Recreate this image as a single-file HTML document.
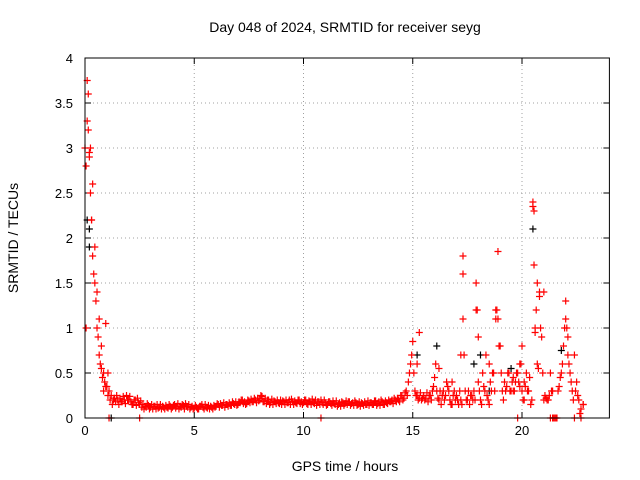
<!DOCTYPE html>
<html><head><meta charset="utf-8"><style>
body{margin:0;background:#fff}
svg{display:block;font-family:"Liberation Sans",sans-serif}
</style></head><body>
<svg id="chart" width="640" height="480">
<text x="345" y="32" font-size="14" text-anchor="middle">Day 048 of 2024, SRMTID for receiver seyg</text>
<text x="0" y="0" transform="translate(18,238) rotate(-90)" font-size="14" text-anchor="middle">SRMTID / TECUs</text>
<text x="345" y="471" font-size="14" text-anchor="middle">GPS time / hours</text>
<g id="grid"></g>
<g id="ticks"></g>
<g id="marks"></g>
<rect x="85" y="58" width="524.4" height="360" fill="none" stroke="#000" stroke-width="1"/>
</svg>
<script>
const xTicks=[0,5,10,15,20];
const yTicks=[0,0.5,1,1.5,2,2.5,3,3.5,4];
const yTickLabels=["0","0.5","1","1.5","2","2.5","3","3.5","4"];
const redStep=0.1;
const redMain=[3.0,3.75,2.9,2.2,1.6,1.3,0.9,0.6,0.45,0.4,
0.35,0.3,0.25,0.2,0.18,0.2,0.22,0.18,0.2,0.25,
0.2,0.18,0.15,0.2,0.22,0.15,0.12,0.1,0.12,0.14,
0.12,0.1,0.13,0.15,0.12,0.1,0.12,0.14,0.11,0.13,
0.12,0.15,0.13,0.1,0.12,0.14,0.16,0.12,0.1,0.13,
0.11,0.12,0.1,0.13,0.12,0.15,0.11,0.1,0.12,0.14,
0.13,0.15,0.16,0.14,0.12,0.15,0.17,0.14,0.16,0.18,
0.15,0.17,0.2,0.18,0.16,0.19,0.21,0.18,0.2,0.22,
0.2,0.24,0.18,0.16,0.2,0.17,0.15,0.18,0.2,0.16,
0.15,0.18,0.2,0.17,0.15,0.18,0.19,0.16,0.2,0.18,
0.17,0.2,0.15,0.18,0.21,0.16,0.14,0.18,0.2,0.15,
0.17,0.15,0.18,0.14,0.16,0.19,0.15,0.13,0.17,0.16,
0.15,0.18,0.16,0.14,0.17,0.15,0.13,0.16,0.18,0.15,
0.14,0.17,0.15,0.19,0.16,0.14,0.18,0.15,0.17,0.2,
0.18,0.16,0.2,0.22,0.18,0.25,0.22,0.3,0.4,0.6,
0.85,0.3,0.25,0.22,0.2,0.25,0.22,0.18,0.25,0.3,
0.45,0.3,0.2,0.15,0.3,0.25,0.35,0.2,0.15,0.3,
0.25,0.15,0.2,1.8,0.3,0.2,0.15,0.25,0.3,1.5,
0.4,0.2,0.5,0.3,0.25,0.6,0.3,0.5,1.1,1.85,
0.8,0.3,0.4,0.35,0.5,0.3,0.45,0.4,0.5,0.35,
0.3,0.2,0.5,0.3,0.15,2.4,1.0,0.6,1.4,0.9,
0.2,0.22,0.2,0.5,0.3,0.0,0.0,0.35,0.5,0.8,
1.3,0.9,0.5,0.3,0.0,0.4,0.2,0.1,0.15];
const redMidStart=0.05;
const redMid=[2.8,3.2,3.0,2.6,1.9,1.4,1.1,0.8,0.5,0.35,
0.25,0.2,0.15,0.22,0.25,0.15,0.18,0.24,0.16,0.2,
0.24,0.15,0.2,0.14,0.17,0.19,0.15,0.13,0.16,0.1,
0.15,0.13,0.1,0.11,0.15,0.13,0.1,0.12,0.15,0.1,
0.14,0.11,0.16,0.13,0.15,0.1,0.13,0.15,0.12,0.1,
0.14,0.1,0.13,0.15,0.1,0.12,0.14,0.13,0.1,0.12,
0.16,0.12,0.14,0.17,0.15,0.13,0.14,0.18,0.15,0.14,
0.18,0.2,0.16,0.15,0.2,0.17,0.18,0.22,0.17,0.19,
0.25,0.18,0.22,0.2,0.15,0.21,0.19,0.16,0.17,0.2,
0.19,0.15,0.17,0.2,0.21,0.15,0.17,0.2,0.16,0.15,
0.2,0.16,0.19,0.15,0.17,0.2,0.18,0.15,0.17,0.2,
0.14,0.18,0.16,0.19,0.15,0.13,0.17,0.18,0.14,0.19,
0.18,0.14,0.17,0.19,0.14,0.18,0.17,0.14,0.15,0.19,
0.17,0.15,0.19,0.14,0.18,0.2,0.15,0.19,0.16,0.18,
0.2,0.22,0.18,0.2,0.25,0.2,0.28,0.25,0.5,0.7,
0.5,0.25,0.2,0.28,0.22,0.2,0.28,0.25,0.2,0.35,
0.6,0.22,0.3,0.25,0.2,0.4,0.3,0.15,0.25,0.2,
0.2,0.3,0.15,0.7,0.2,0.3,0.25,0.2,0.2,1.2,
0.3,0.15,0.35,0.7,0.2,0.4,0.5,0.3,1.2,0.8,
0.5,0.2,0.3,0.5,0.3,0.4,0.3,0.5,0.4,0.6,
0.2,0.35,0.3,0.45,0.2,2.3,1.2,0.55,1.0,0.5,
0.25,0.2,0.25,0.3,0.0,0.0,0.3,0.45,0.6,1.0,
1.0,0.6,0.4,0.2,0.3,0.25,0.05];
const redExtraT=[0.05,0.1,0.15,0.2,0.25,0.3,0.35,0.45,0.55,0.65,0.75,0.85,0.95,1.05,1.1,2.5,10.8,15.3,15.2,16.2,17.3,17.3,17.2,17.9,18.0,18.8,18.9,20.5,20.55,20.7,20.8,21.0,20.6,21.3,21.4,22.0,22.1,22.4,22.7,22.8,19.8,19.9,19.6,18.5,16.8,20.0,20.1];
const redExtraV=[1.0,3.3,3.6,2.95,2.5,2.2,1.8,1.5,1.0,0.7,0.55,0.3,1.05,0.5,0.0,0.0,0.0,0.95,0.6,0.55,1.6,1.1,0.7,1.2,0.9,1.2,1.1,2.35,1.7,1.5,1.35,1.4,0.95,0.0,0.0,1.1,0.7,0.7,0.0,0.15,0.0,0.6,0.3,0.15,0.4,0.8,0.4];
const blackT=[0.1,0.2,0.2,1.2,15.2,16.1,18.1,20.5,21.8,19.5,18.5,17.8];
const blackV=[2.2,1.9,2.1,0.0,0.7,0.8,0.7,2.1,0.75,0.55,0.3,0.6];
const NS="http://www.w3.org/2000/svg";
const X0=85,X1=609.4,Y0=418,Y1=58;
const xs=v=>X0+v/24*(X1-X0);
const ys=v=>Y0-v/4*(Y0-Y1);
const grid=document.getElementById('grid'),ticks=document.getElementById('ticks'),marks=document.getElementById('marks');
function mk(tag,attrs,parent){const e=document.createElementNS(NS,tag);for(const k in attrs)e.setAttribute(k,attrs[k]);parent.appendChild(e);return e;}
xTicks.forEach(t=>{
 const x=xs(t);
 if(t>0){const g=mk('line',{x1:x,x2:x,y1:Y0,y2:Y1,stroke:'#a0a0a0','stroke-dasharray':'1,3'},grid);
 
 }
 mk('line',{x1:x,x2:x,y1:Y0,y2:Y0-6,stroke:'#000'},ticks);
 mk('line',{x1:x,x2:x,y1:Y1,y2:Y1+6,stroke:'#000'},ticks);
 const l=mk('text',{x:x,y:Y0+17,'font-size':13,'text-anchor':'middle'},ticks);
 l.textContent=String(t);
 
 
});
yTicks.forEach((t,i)=>{
 const y=ys(t);
 if(t>0&&t<4){const g=mk('line',{x1:X0,x2:X1,y1:y,y2:y,stroke:'#a0a0a0','stroke-dasharray':'1,3'},grid);
 
 }
 mk('line',{x1:X0,x2:X0+6,y1:y,y2:y,stroke:'#000'},ticks);
 mk('line',{x1:X1,x2:X1-6,y1:y,y2:y,stroke:'#000'},ticks);
 const l=mk('text',{x:X0-12,y:y+5,'font-size':13,'text-anchor':'end'},ticks);
 l.textContent=yTickLabels[i];
 
 
});
function plus(t,v,color,name){
 const x=xs(t),y=ys(v);
 const p=mk('path',{d:`M${x-3.5},${y}H${x+3.5}M${x},${y-3.5}V${y+3.5}`,stroke:color,'stroke-width':1.2,fill:'none'},marks);
 
 
}
blackT.forEach((t,i)=>plus(t,blackV[i],'#000','black-point'));
redMain.forEach((v,i)=>plus(i*redStep,v,'#f00','red-point'));
redMid.forEach((v,i)=>plus(redMidStart+i*redStep,v,'#f00','red-point'));
redExtraT.forEach((t,i)=>plus(t,redExtraV[i],'#f00','red-point'));
</script>
</body></html>
